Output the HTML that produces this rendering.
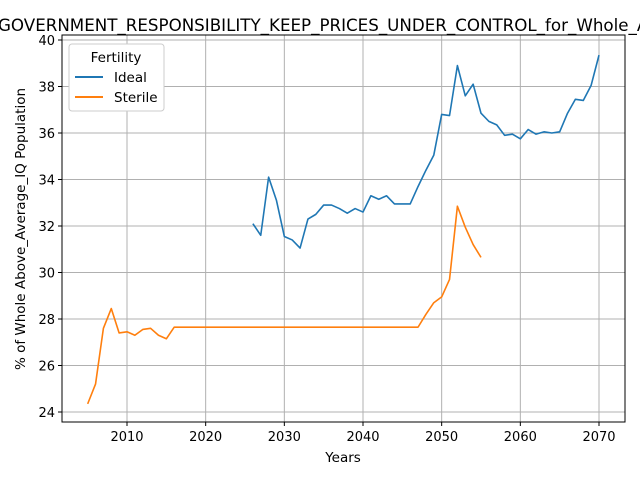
<!DOCTYPE html>
<html><head><meta charset="utf-8"><style>
body{margin:0;background:#fff;}
svg{font-family:"DejaVu Sans","Liberation Sans",sans-serif;}
</style></head><body>
<svg id="chart" width="640" height="480" xmlns="http://www.w3.org/2000/svg">
<text x="-2" y="31" font-size="16.7">GOVERNMENT_RESPONSIBILITY_KEEP_PRICES_UNDER_CONTROL_for_Whole_Above_Average_IQ</text>
<g id="grid"></g><g id="series"></g><g id="axes"></g>
<text x="343" y="462" text-anchor="middle" font-size="13.5">Years</text>
<text transform="translate(25,229) rotate(-90)" text-anchor="middle" font-size="13.5">% of Whole Above_Average_IQ Population</text>
<g>
<rect x="69" y="44" width="95" height="67" fill="#fff" stroke="#ccc" rx="3"/>
<text x="116" y="62" text-anchor="middle" font-size="13.5">Fertility</text>
<g><line x1="75" y1="77" x2="103" y2="77" stroke="#1f77b4" stroke-width="2"/><text x="114" y="82" font-size="13.5">Ideal</text></g>
<g><line x1="75" y1="97" x2="103" y2="97" stroke="#ff7f0e" stroke-width="2"/><text x="114" y="102" font-size="13.5">Sterile</text></g>
</g>
</svg>
<script>
const idealYears=[2026,2027,2028,2029,2030,2031,2032,2033,2034,2035,2036,2037,2038,2039,2040,2041,2042,2043,2044,2045,2046,2047,2048,2049,2050,2051,2052,2053,2054,2055,2056,2057,2058,2059,2060,2061,2062,2063,2064,2065,2066,2067,2068,2069,2070];
const idealValues=[32.1,31.6,34.1,33.1,31.55,31.4,31.05,32.3,32.5,32.9,32.9,32.75,32.55,32.75,32.6,33.3,33.15,33.3,32.95,32.95,32.95,33.7,34.4,35.05,36.8,36.75,38.9,37.6,38.1,36.85,36.5,36.35,35.9,35.95,35.75,36.15,35.95,36.05,36.0,36.05,36.85,37.45,37.4,38.05,39.35];
const sterileYears=[2005,2006,2007,2008,2009,2010,2011,2012,2013,2014,2015,2016,2017,2018,2019,2020,2021,2022,2023,2024,2025,2026,2027,2028,2029,2030,2031,2032,2033,2034,2035,2036,2037,2038,2039,2040,2041,2042,2043,2044,2045,2046,2047,2048,2049,2050,2051,2052,2053,2054,2055];
const sterileValues=[24.35,25.2,27.6,28.45,27.4,27.45,27.3,27.55,27.6,27.3,27.15,27.65,27.65,27.65,27.65,27.65,27.65,27.65,27.65,27.65,27.65,27.65,27.65,27.65,27.65,27.65,27.65,27.65,27.65,27.65,27.65,27.65,27.65,27.65,27.65,27.65,27.65,27.65,27.65,27.65,27.65,27.65,27.65,28.2,28.7,28.95,29.7,32.85,31.95,31.2,30.65];
const xTicks=[2010,2020,2030,2040,2050,2060,2070];
const yTicks=[24,26,28,30,32,34,36,38,40];
const L=62,R=625,T=35,B=422;
const x=v=>127+(v-2010)*(472/60);
const y=v=>412-(v-24)*(372/16);
const NS="http://www.w3.org/2000/svg";
function mk(tag,attrs,parent){const e=document.createElementNS(NS,tag);for(const k in attrs)e.setAttribute(k,attrs[k]);document.getElementById(parent).appendChild(e);return e;}
xTicks.forEach(t=>{
 const g=mk('line',{x1:x(t),x2:x(t),y1:T,y2:B,stroke:'#b0b0b0','stroke-width':1},'grid');
 
 
 mk('line',{x1:x(t),x2:x(t),y1:B,y2:B+4,stroke:'#000'},'axes');
 const tx=mk('text',{x:x(t),y:B+19,'text-anchor':'middle','font-size':13},'axes');tx.textContent=t;
 
 
});
yTicks.forEach(t=>{
 const g=mk('line',{x1:L,x2:R,y1:y(t),y2:y(t),stroke:'#b0b0b0','stroke-width':1},'grid');
 
 
 mk('line',{x1:L-4,x2:L,y1:y(t),y2:y(t),stroke:'#000'},'axes');
 const tx=mk('text',{x:L-7,y:y(t)+5,'text-anchor':'end','font-size':13},'axes');tx.textContent=t;
 
 
});
const fr=mk('rect',{x:L,y:T,width:R-L,height:B-T,fill:'none',stroke:'#000','stroke-width':1},'axes');


function line(xs,vs,color,name){
 const p=mk('polyline',{points:xs.map((t,i)=>x(t)+','+y(vs[i])).join(' '),fill:'none',stroke:color,'stroke-width':1.6,'stroke-linejoin':'round'},'series');
 
 
}
line(idealYears,idealValues,'#1f77b4','ideal-line');
line(sterileYears,sterileValues,'#ff7f0e','sterile-line');
</script>
</body></html>
